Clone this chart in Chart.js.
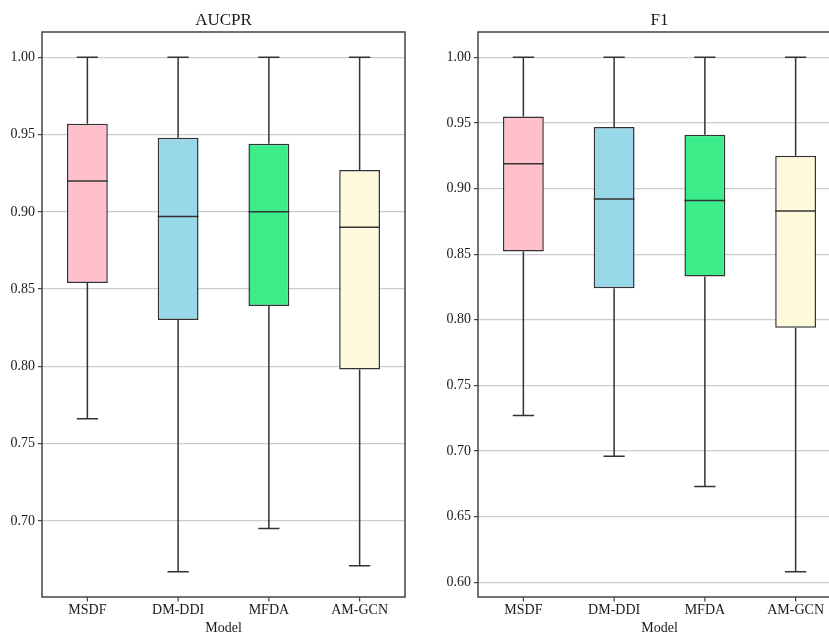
<!DOCTYPE html>
<html>
<head>
<meta charset="utf-8">
<script src="https://cdn.jsdelivr.net/npm/chart.js@4.4.0/dist/chart.umd.min.js"></script>
<style>
  html, body { margin: 0; padding: 0; background: #ffffff; overflow: hidden; }
  body { width: 829px; height: 633px; position: relative; }
  .panel { position: absolute; top: 0; }
  #leftPanel { left: 0; }
  #rightPanel { left: 436px; }
</style>
</head>
<body>
<div class="panel" id="leftPanel"><canvas id="aucprChart" width="414" height="645"></canvas></div>
<div class="panel" id="rightPanel"><canvas id="f1Chart" width="414" height="645"></canvas></div>
<script>
const models = ["MSDF", "DM-DDI", "MFDA", "AM-GCN"];
const boxColors = ["#FFC0CB", "#98D8E8", "#3DED8A", "#FFF9DC"];

const aucprMin = [0.766, 0.667, 0.695, 0.671];
const aucprQ1 = [0.854, 0.830, 0.839, 0.798];
const aucprMedian = [0.920, 0.897, 0.900, 0.890];
const aucprQ3 = [0.957, 0.948, 0.944, 0.927];
const aucprMax = [1.0, 1.0, 1.0, 1.0];
const aucprTicks = [0.70, 0.75, 0.80, 0.85, 0.90, 0.95, 1.00];

const f1Min = [0.727, 0.696, 0.673, 0.608];
const f1Q1 = [0.852, 0.824, 0.833, 0.794];
const f1Median = [0.919, 0.892, 0.891, 0.883];
const f1Q3 = [0.955, 0.947, 0.941, 0.925];
const f1Max = [1.0, 1.0, 1.0, 1.0];
const f1Ticks = [0.60, 0.65, 0.70, 0.75, 0.80, 0.85, 0.90, 0.95, 1.00];

const FONT = "'Liberation Serif', 'DejaVu Serif', serif";
const TEXT = "#1a1a1a";
const EDGE = "#333333";

// whiskers, caps, medians, frame and x tick marks, placed with the chart's own scales
const boxExtras = {
  id: "boxExtras",
  afterDatasetsDraw(chart) {
    const ds = chart.data.datasets[0];
    const meta = chart.getDatasetMeta(0);
    const yScale = chart.scales.y;
    const ctx = chart.ctx;
    ctx.save();
    ctx.strokeStyle = EDGE;
    ctx.lineWidth = 1.5;
    meta.data.forEach((bar, i) => {
      const x = bar.x;
      const half = bar.width / 2;
      const cap = bar.width * 0.26;
      const yMin = yScale.getPixelForValue(ds.whiskerMin[i]);
      const yMax = yScale.getPixelForValue(ds.whiskerMax[i]);
      const yQ1 = yScale.getPixelForValue(ds.data[i][0]);
      const yQ3 = yScale.getPixelForValue(ds.data[i][1]);
      const yMed = yScale.getPixelForValue(ds.medians[i]);
      ctx.beginPath();
      ctx.moveTo(x, yQ3); ctx.lineTo(x, yMax);
      ctx.moveTo(x - cap, yMax); ctx.lineTo(x + cap, yMax);
      ctx.moveTo(x, yQ1); ctx.lineTo(x, yMin);
      ctx.moveTo(x - cap, yMin); ctx.lineTo(x + cap, yMin);
      ctx.moveTo(x - half, yMed); ctx.lineTo(x + half, yMed);
      ctx.stroke();
    });
    ctx.restore();
  },
  afterDraw(chart) {
    const { left, top, right, bottom } = chart.chartArea;
    const xScale = chart.scales.x;
    const ctx = chart.ctx;
    ctx.save();
    ctx.strokeStyle = "#444444";
    ctx.lineWidth = 1.5;
    ctx.strokeRect(left, top, right - left, bottom - top);
    ctx.lineWidth = 1.2;
    ctx.beginPath();
    xScale.ticks.forEach((t, i) => {
      const x = xScale.getPixelForTick(i);
      ctx.moveTo(x, bottom);
      ctx.lineTo(x, bottom + 4.5);
    });
    ctx.stroke();
    ctx.restore();
  },
};

function makeBoxChart(canvasId, title, q1, q3, med, lo, hi, tickValues, yMin, yMax) {
  return new Chart(document.getElementById(canvasId), {
    type: "bar",
    data: {
      labels: models,
      datasets: [
        {
          label: title,
          data: q1.map((v, i) => [v, q3[i]]),
          medians: med,
          whiskerMin: lo,
          whiskerMax: hi,
          backgroundColor: boxColors,
          borderColor: EDGE,
          borderWidth: 1.5,
          borderSkipped: false,
          barPercentage: 0.45,
          categoryPercentage: 1,
        },
      ],
    },
    options: {
      responsive: false,
      animation: false,
      layout: { padding: { left: 0, right: 9, top: 0, bottom: 0 } },
      plugins: {
        legend: { display: false },
        tooltip: { enabled: false },
        title: {
          display: true,
          text: title,
          fullSize: false,
          color: TEXT,
          font: { family: FONT, size: 17, weight: "normal" },
          padding: { top: 10.4, bottom: 1.2 },
        },
      },
      scales: {
        x: {
          offset: true,
          grid: { display: false, drawTicks: true, tickLength: 4 },
          border: { display: false },
          ticks: { color: TEXT, padding: 1, font: { family: FONT, size: 14 } },
          title: {
            display: true,
            text: "Model",
            color: TEXT,
            font: { family: FONT, size: 14 },
            padding: { top: 0, bottom: 8.6 },
          },
          afterFit(scale) { scale.height = 48; },
        },
        y: {
          min: yMin,
          max: yMax,
          grid: { color: "#cccccc", lineWidth: 1.2, tickLength: 4, tickColor: "#444444" },
          border: { display: false },
          ticks: {
            color: TEXT,
            padding: 3,
            includeBounds: false,
            font: { family: FONT, size: 14 },
            callback: v => Number(v).toFixed(2),
          },
          afterBuildTicks(scale) { scale.ticks = tickValues.map(v => ({ value: v })); },
          afterFit(scale) { scale.width = 42; },
        },
      },
    },
    plugins: [boxExtras],
  });
}

makeBoxChart("aucprChart", "AUCPR", aucprQ1, aucprQ3, aucprMedian, aucprMin, aucprMax, aucprTicks, 0.6507, 1.0164);
makeBoxChart("f1Chart", "F1", f1Q1, f1Q3, f1Median, f1Min, f1Max, f1Ticks, 0.5888, 1.0193);
</script>
</body>
</html>
